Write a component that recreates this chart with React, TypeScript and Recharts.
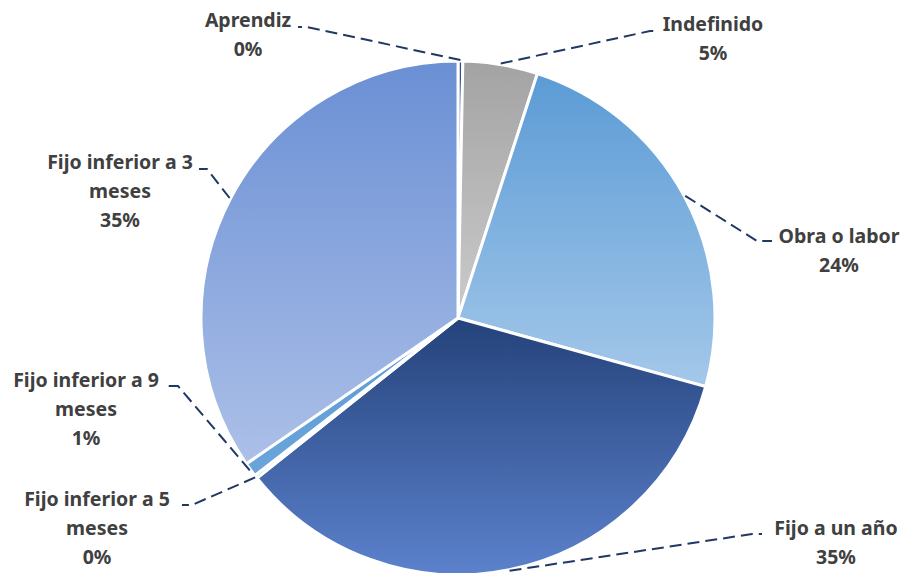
import { PieChart, Pie, Cell } from 'recharts';

// contract types, share of total (%)
const categories = [
  'Aprendiz',
  'Indefinido',
  'Obra o labor',
  'Fijo a un año',
  'Fijo inferior a 5 meses',
  'Fijo inferior a 9 meses',
  'Fijo inferior a 3 meses',
];
const shares = [0.3, 4.7, 24.3, 35.0, 0.2, 0.9, 34.6];

const chartData = categories.map((name, i) => ({ name, value: shares[i] }));

// gradient stops per slice: [top, bottom]
const GRADIENTS: [string, string][] = [
  ['#2f4f8f', '#3d5fa3'],
  ['#a3a3a3', '#cbcbcb'],
  ['#5b9bd5', '#a4c8ea'],
  ['#24427a', '#5c82cd'],
  ['#4a6fb5', '#5576bb'],
  ['#5b9bd5', '#6aa5da'],
  ['#6a8fd4', '#acc0e8'],
];

// label placement: text centre x, first baseline y, elbow point, tail end
const LABEL_LAYOUT = [
  { tx: 248, ty: 27, ex: 307, ey: 27, endX: 298 },
  { tx: 713, ty: 31, ex: 650, ey: 31, endX: 659 },
  { tx: 839, ty: 243, ex: 757, ey: 241, endX: 772 },
  { tx: 836, ty: 535, ex: 752, ey: 534, endX: 762 },
  { tx: 97, ty: 506, ex: 192, ey: 505, endX: 182 },
  { tx: 86, ty: 387, ex: 178, ey: 386, endX: 168 },
  { tx: 120, ty: 169, ex: 207, ey: 169, endX: 199 },
];

const RAD = Math.PI / 180;
const LINE_H = 29;

const wrapName = (name: string) => {
  if (name.length <= 16) return [name];
  const cut = name.lastIndexOf(' ');
  return [name.slice(0, cut), name.slice(cut + 1)];
};

const renderLabel = (props: any) => {
  const { cx, cy, midAngle, outerRadius, index, percent, name } = props;
  const pos = LABEL_LAYOUT[index];
  const ax = cx + (outerRadius + 1) * Math.cos(-midAngle * RAD);
  const ay = cy + (outerRadius + 1) * Math.sin(-midAngle * RAD);
  const lines = [...wrapName(name), `${Math.round(percent * 100)}%`];

  return (
    <g key={`label-${index}`}>
      <path
        d={`M${ax},${ay} L${pos.ex},${pos.ey} L${pos.endX},${pos.ey}`}
        fill="none"
        stroke="#203864"
        strokeWidth={2}
        strokeDasharray="12 6"
      />
      <text
        x={pos.tx}
        y={pos.ty}
        textAnchor="middle"
        fill="#404040"
        fontFamily="'Noto Sans', sans-serif"
        fontWeight="bold"
        fontSize={19.5}
      >
        {lines.map((line, i) => (
          <tspan key={i} x={pos.tx} y={pos.ty + i * LINE_H}>
            {line}
          </tspan>
        ))}
      </text>
    </g>
  );
};

export default function App() {
  return (
    <div style={{ position: 'absolute', left: 0, top: 0, width: 905, height: 573, background: '#fff' }}>
      <PieChart width={905} height={573} margin={{ top: 0, right: 0, bottom: 0, left: 0 }}>
        <defs>
          {GRADIENTS.map(([top, bottom], i) => (
            <linearGradient key={i} id={`slice-grad-${i}`} x1="0" y1="0" x2="0" y2="1">
              <stop offset="0%" stopColor={top} />
              <stop offset="100%" stopColor={bottom} />
            </linearGradient>
          ))}
        </defs>
        <Pie
          data={chartData}
          dataKey="value"
          nameKey="name"
          cx={458}
          cy={318}
          outerRadius={257}
          startAngle={90}
          endAngle={-270}
          stroke="#ffffff"
          strokeWidth={3}
          label={renderLabel}
          labelLine={false}
          isAnimationActive={false}
        >
          {chartData.map((_, i) => (
            <Cell key={`cell-${i}`} fill={`url(#slice-grad-${i})`} />
          ))}
        </Pie>
      </PieChart>
    </div>
  );
}
